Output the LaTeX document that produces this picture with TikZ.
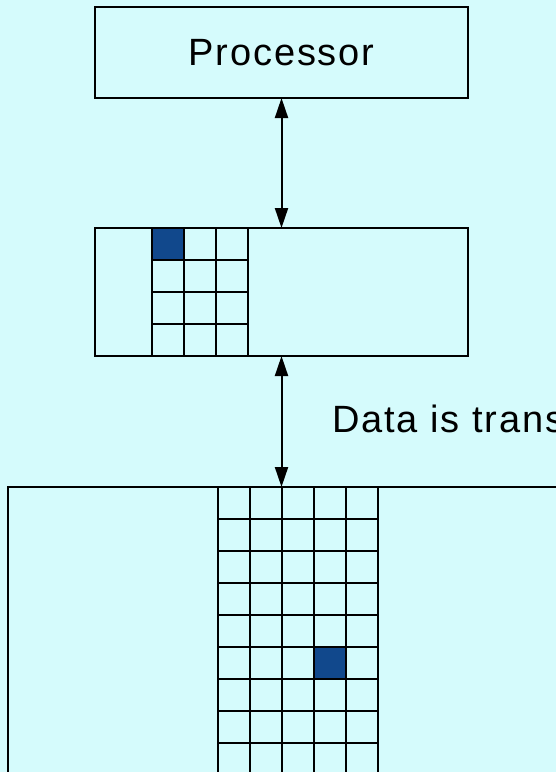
\documentclass[tikz,border=0pt]{standalone}
\usepackage{fontspec}
\setmainfont[LetterSpace=5]{Liberation Sans}
\usetikzlibrary{arrows.meta}
\definecolor{bgcyan}{RGB}{213,251,252}
\definecolor{cellblue}{RGB}{17,72,140}
\tikzset{
  box/.style={draw=black, line width=2.3pt, fill=bgcyan, inner sep=0pt, outer sep=0pt},
  gridln/.style={draw=black, line width=2.4pt},
  link/.style={draw=black, line width=2pt, {Triangle[length=20pt,width=13pt]}-{Triangle[length=20pt,width=13pt]}},
  lbl/.style={font=\fontsize{38}{44}\selectfont, inner sep=0pt},
}
\begin{document}
\begin{tikzpicture}[x=1pt,y=-1pt]
\useasboundingbox (0,0) rectangle (556,772);
\clip (0,0) rectangle (556,772);
\fill[bgcyan] (0,0) rectangle (556,772);
% processor
\node[box, minimum width=373pt, minimum height=91pt] (proc) at (281.5,52.5) {};
\node[lbl] (proctxt) at (proc.center) {Processor};
% cache
\node[box, minimum width=373pt, minimum height=128pt] (cache) at (281.5,292) {};
\fill[cellblue] (152,228) rectangle (184,260);
\foreach \x in {152,184,216,248} \draw[gridln] (\x,228) -- (\x,356);
\foreach \y in {260,292,324} \draw[gridln] (152,\y) -- (248,\y);
% memory
\node[box, minimum width=800pt, minimum height=600pt, anchor=north west] (mem) at (8,487) {};
\fill[cellblue] (314,647) rectangle (346,679);
\foreach \x in {218,250,282,314,346,378} \draw[gridln] (\x,487) -- (\x,790);
\foreach \y in {519,551,583,615,647,679,711,743} \draw[gridln] (218,\y) -- (378,\y);
% redraw borders on top
\draw[line width=2.3pt] (cache.north west) rectangle (cache.south east);
\draw[line width=2.3pt] (mem.north west) -- (mem.north east);
% connectors
\draw[link] (proc.south) -- (cache.north);
\draw[link] (cache.south) -- (cache.south |- mem.north);
% label
\node[lbl, anchor=base west] (data) at (332,432) {Data is trans};
\end{tikzpicture}
\end{document}
